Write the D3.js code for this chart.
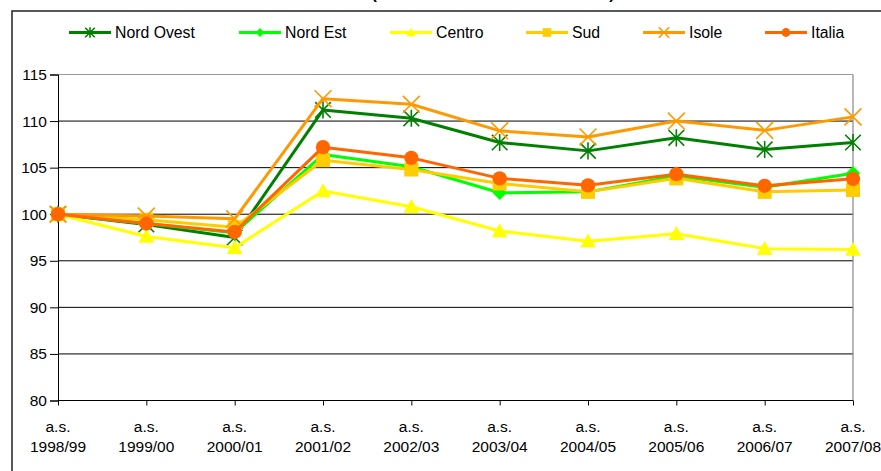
<!DOCTYPE html>
<html><head><meta charset="utf-8">
<script src="https://cdn.jsdelivr.net/npm/d3@7"></script>
<style>
html,body{margin:0;padding:0;background:#fff;}
svg{display:block;font-family:"Liberation Sans",Arial,sans-serif;}
</style></head>
<body>
<svg id="chart" width="881" height="471"></svg>
<script>
const title = "(base a.s. 1998/99 = 100)";
const categories = ["1998/99","1999/00","2000/01","2001/02","2002/03","2003/04","2004/05","2005/06","2006/07","2007/08"];
const categoryPrefix = "a.s.";
const yTicks = [80,85,90,95,100,105,110,115];
const nordOvest = [100, 98.9, 97.5, 111.2, 110.3, 107.7, 106.8, 108.2, 106.95, 107.7];
const nordEst   = [100, 99.0, 98.0, 106.4, 105.1, 102.3, 102.4, 104.1, 102.9, 104.4];
const centro    = [100, 97.6, 96.4, 102.5, 100.8, 98.2, 97.1, 97.9, 96.3, 96.2];
const sud       = [100, 99.4, 98.6, 105.8, 104.8, 103.3, 102.4, 103.85, 102.4, 102.6];
const isole     = [100, 99.8, 99.5, 112.4, 111.8, 108.95, 108.3, 110.0, 109.0, 110.45];
const italia    = [100, 99.0, 98.1, 107.2, 106.05, 103.85, 103.1, 104.3, 103.05, 103.8];
const seriesNames = ["Nord Ovest","Nord Est","Centro","Sud","Isole","Italia"];
const seriesValues = [nordOvest, nordEst, centro, sud, isole, italia];
const seriesColors = ["#008000","#00FF00","#FFFF00","#FFCC00","#FF9900","#FF6600"];
const seriesMarkers = ["asterisk","diamond","triangle","square","cross","circle"];

(function(){
const svg = d3.select("#chart");
const pLeft = 58, pRight = 853, pTop = 74.5, pBottom = 400.5;

const x = d3.scalePoint().domain(categories).range([pLeft, pRight]);
const y = d3.scaleLinear().domain([80,115]).range([pBottom, pTop]);

// outer frame
svg.append("rect").attr("x",12).attr("y",11).attr("width",900).attr("height",500)
  .attr("fill","none").attr("stroke","#222").attr("stroke-width",1.5);

// title (cut off at top, as in the reference)
svg.append("text").attr("x",493).attr("y",-1).attr("text-anchor","middle")
  .attr("font-size",16).attr("font-weight","bold").attr("textLength",243)
  .text(title);

// gridlines
svg.append("g").selectAll("line").data(yTicks.filter(d=>d>80 && d<115)).join("line")
  .attr("x1",pLeft).attr("x2",pRight).attr("y1",d=>y(d)).attr("y2",d=>y(d))
  .attr("stroke","#000").attr("stroke-width",1);
// top and right plot border
svg.append("line").attr("x1",pLeft).attr("x2",pRight).attr("y1",y(115)).attr("y2",y(115))
  .attr("stroke","#999").attr("stroke-width",1.2);
svg.append("line").attr("x1",pRight).attr("x2",pRight).attr("y1",pTop).attr("y2",pBottom)
  .attr("stroke","#888").attr("stroke-width",1.2);

// axes
const yAxis = d3.axisLeft(y).tickValues(yTicks).tickSize(8).tickPadding(3);
const gy = svg.append("g").attr("transform",`translate(${pLeft},0)`).call(yAxis);
gy.attr("font-family",null).attr("font-size",null);
gy.select(".domain").attr("stroke","#000");
gy.selectAll(".tick line").attr("stroke","#000");
gy.selectAll("text").attr("font-size",15.5).attr("fill","#000");

const xAxis = d3.axisBottom(x).tickSize(5).tickFormat("");
const gx = svg.append("g").attr("transform",`translate(0,${pBottom})`).call(xAxis);
gx.select(".domain").attr("stroke","#000").attr("d",`M${pLeft},0H${pRight}`);
gx.selectAll(".tick line").attr("stroke","#000");
const xl = svg.append("g");
categories.forEach(c=>{
  const t = xl.append("text").attr("x",x(c)).attr("text-anchor","middle").attr("font-size",15.5).attr("fill","#000");
  t.append("tspan").attr("x",x(c)).attr("y",432).text(categoryPrefix);
  t.append("tspan").attr("x",x(c)).attr("y",452).text(c);
});

function drawMarker(g, type, color, cx, cy, s){
  if(type==="asterisk"){
    const r = s*0.6;
    const p = `M${cx-r},${cy-r}L${cx+r},${cy+r}M${cx-r},${cy+r}L${cx+r},${cy-r}M${cx},${cy-r*1.1}L${cx},${cy+r*1.1}`;
    g.append("path").attr("d",p).attr("stroke",color).attr("stroke-width",1.6).attr("fill","none");
  } else if(type==="cross"){
    const r = s*0.65;
    g.append("path").attr("d",`M${cx-r},${cy-r}L${cx+r},${cy+r}M${cx-r},${cy+r}L${cx+r},${cy-r}`)
      .attr("stroke",color).attr("stroke-width",1.6).attr("fill","none");
  } else if(type==="diamond"){
    const r = s*0.55;
    g.append("path").attr("d",`M${cx},${cy-r}L${cx+r},${cy}L${cx},${cy+r}L${cx-r},${cy}Z`).attr("fill",color);
  } else if(type==="triangle"){
    const r = s*0.6;
    g.append("path").attr("d",`M${cx},${cy-r}L${cx+r},${cy+r*0.8}L${cx-r},${cy+r*0.8}Z`).attr("fill",color);
  } else if(type==="square"){
    const r = s*0.54;
    g.append("rect").attr("x",cx-r).attr("y",cy-r).attr("width",2*r).attr("height",2*r).attr("fill",color);
  } else if(type==="circle"){
    g.append("circle").attr("cx",cx).attr("cy",cy).attr("r",s*0.55).attr("fill",color);
  }
}

const line = d3.line().x((d,i)=>x(categories[i])).y(d=>y(d));
const sg = svg.append("g");
seriesValues.forEach((vals,k)=>{
  const g = sg.append("g");
  g.append("path").datum(vals).attr("d",line).attr("fill","none")
    .attr("stroke",seriesColors[k]).attr("stroke-width",3).attr("stroke-linejoin","round");
  vals.forEach((v,i)=>drawMarker(g, seriesMarkers[k], seriesColors[k], x(categories[i]), y(v), 13));
});

// legend
const legLineX = [69, 239, 390, 526, 643, 765];
const legY = 32.5;
const lg = svg.append("g");
seriesNames.forEach((n,k)=>{
  const x0 = legLineX[k];
  lg.append("line").attr("x1",x0).attr("x2",x0+42).attr("y1",legY).attr("y2",legY)
    .attr("stroke",seriesColors[k]).attr("stroke-width",3);
  drawMarker(lg, seriesMarkers[k], seriesColors[k], x0+21, legY, 8);
  lg.append("text").attr("x",x0+46).attr("y",legY+5.5).attr("font-size",15.8).attr("fill","#000").text(n);
});
})();
</script>
</body></html>
